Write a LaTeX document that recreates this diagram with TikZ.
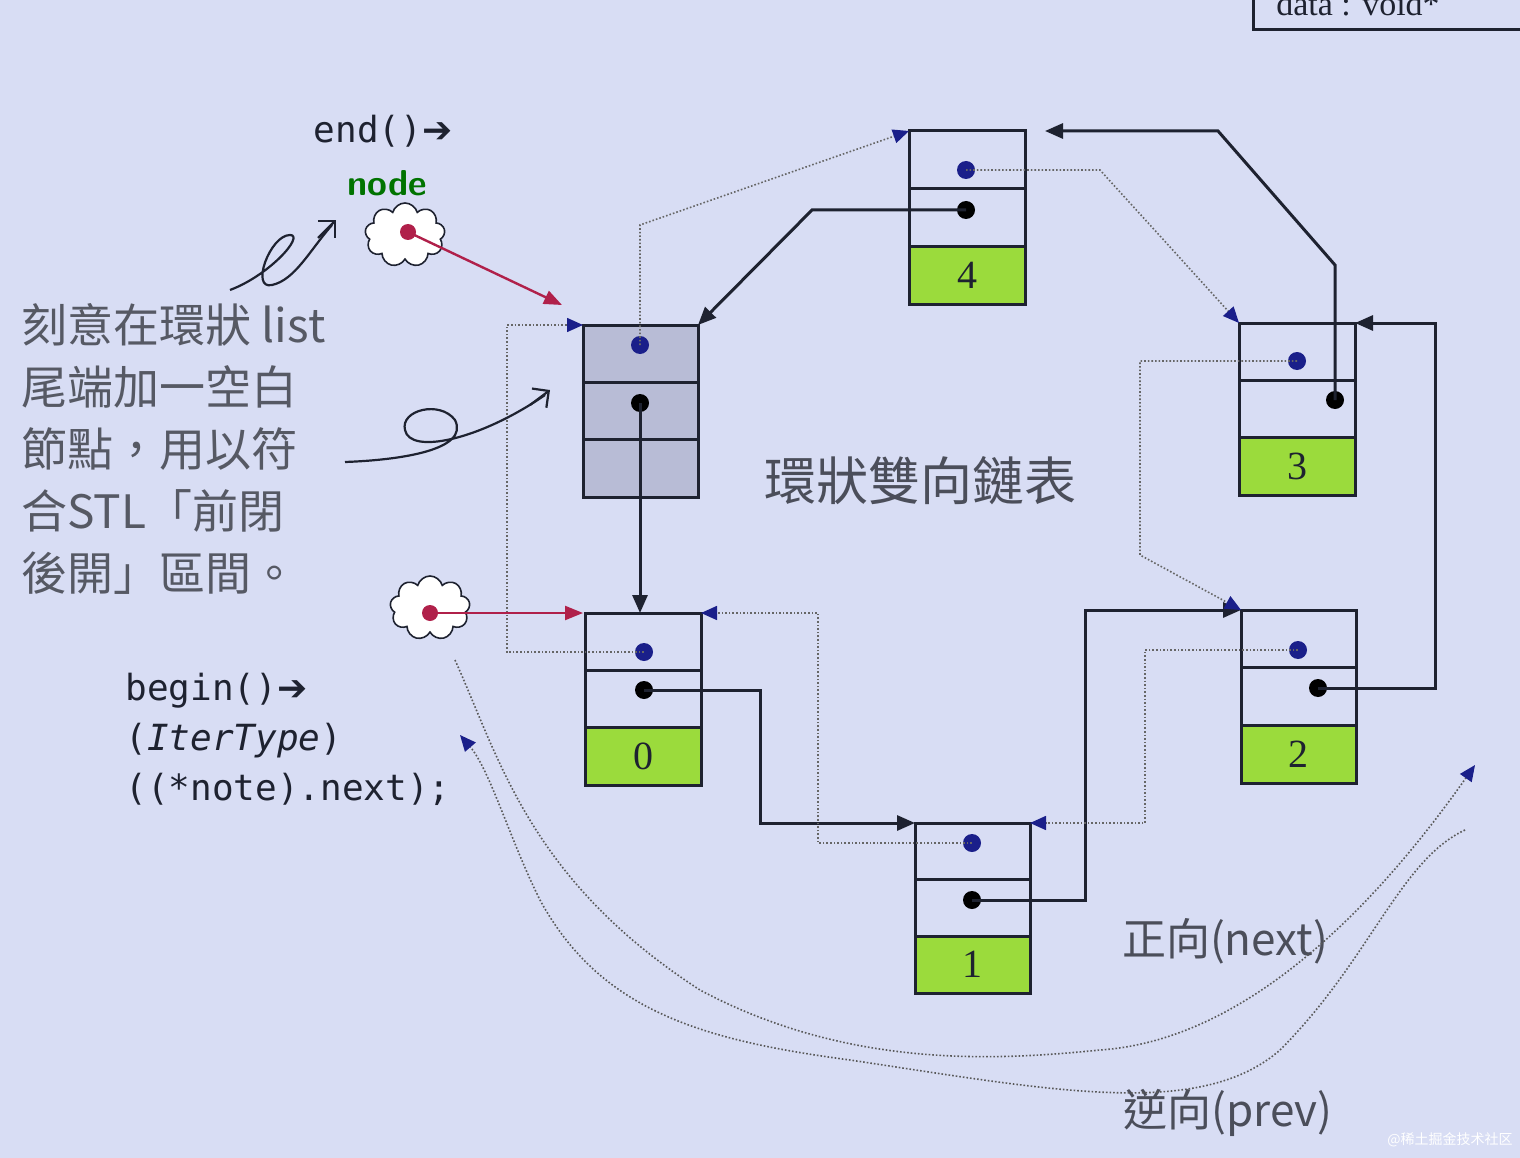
\documentclass[tikz,border=0pt]{standalone}
\usepackage{fontspec}
\setmainfont{Liberation Serif}
\newfontfamily\cjk{Noto Sans CJK TC}
\newfontfamily\mono{DejaVu Sans Mono}
\newfontfamily\dvs{DejaVu Sans}
\usetikzlibrary{shapes.symbols,arrows.meta}
\definecolor{bg}{HTML}{D8DDF4}
\definecolor{gr}{HTML}{9BDB3C}
\definecolor{gy}{HTML}{B8BCD6}
\definecolor{dk}{HTML}{1E2230}
\definecolor{bl}{HTML}{1A1F8A}
\definecolor{rd}{HTML}{B0204A}
\tikzset{
 nx/.style={draw=dk,line width=3pt,-{Triangle[length=18pt,width=15pt]}},
 pv/.style={draw=gray!80!black,dotted,line width=1.6pt,-{Triangle[length=16pt,width=14pt,fill=bl,color=bl]}},
 rl/.style={draw=rd,line width=2.4pt,-{Triangle[length=18pt,width=14pt]}},
 bd/.style={circle,fill=bl,inner sep=0pt,minimum size=18pt},
 kd/.style={circle,fill=black,inner sep=0pt,minimum size=18pt},
 cl/.style={cloud,cloud puffs=9,draw=dk,fill=white,line width=1.6pt,minimum width=80pt,minimum height=64pt},
 wv/.style={draw=gray!70!black,dotted,line width=1.6pt},
 hw/.style={draw=dk,line width=2.2pt},
}
\newcommand{\lnode}[6]{%
 \fill[#6] (#2,{#3+(#5-#3)*2/3}) rectangle (#4,#5);
 \draw[dk,line width=3pt] (#2,#3) rectangle (#4,#5);
 \draw[dk,line width=3pt] (#2,{#3+(#5-#3)/3}) -- (#4,{#3+(#5-#3)/3});
 \draw[dk,line width=3pt] (#2,{#3+(#5-#3)*2/3}) -- (#4,{#3+(#5-#3)*2/3});
 \coordinate (#1tl) at (#2,#3); \coordinate (#1tr) at (#4,#3);
 \coordinate (#1b) at ({(#2+#4)/2},{#3+(#5-#3)*5/6});
}
\begin{document}
\begin{tikzpicture}[x=1pt,y=-1pt]
\fill[bg] (0,0) rectangle (1520,1158);
\useasboundingbox (0,0) rectangle (1520,1158);
\draw[dk,line width=3pt] (1253,-20) -- (1253,30) -- (1530,30);
\node[font=\fontsize{34}{34}\selectfont,text=dk] (dv) at (1358,4) {data : void*};
\fill[gy] (583,325) rectangle (698,497);
\lnode{e}{583}{325}{698}{497}{gy}
\lnode{n0}{585}{613}{701}{785}{gr}
\lnode{n1}{915}{823}{1030}{993}{gr}
\lnode{n2}{1241}{610}{1356}{783}{gr}
\lnode{n3}{1239}{323}{1355}{495}{gr}
\lnode{n4}{909}{131}{1025}{304}{gr}
\foreach \n/\t in {n0/0,n1/1,n2/2,n3/3,n4/4}
 \node[font=\fontsize{40}{40}\selectfont,text=dk] (t\n) at (\n b) {\t};
\node[bd] (eb) at (640,345) {}; \node[kd] (ek) at (640,403) {};
\node[bd] (b0) at (644,652) {}; \node[kd] (k0) at (644,690) {};
\node[bd] (b1) at (972,843) {}; \node[kd] (k1) at (972,900) {};
\node[bd] (b2) at (1298,650) {}; \node[kd] (k2) at (1318,688) {};
\node[bd] (b3) at (1297,361) {}; \node[kd] (k3) at (1335,400) {};
\node[bd] (b4) at (966,170) {}; \node[kd] (k4) at (966,210) {};
\draw[nx] (ek.center) -- (640,613);
\draw[nx] (k0.center) -- (760,690) -- (760,823) -- (n1tl);
\draw[nx] (k1.center) -- (1085,900) -- (1085,610) -- (n2tl);
\draw[nx] (k2.center) -- (1435,688) -- (1435,323) -- (n3tr);
\draw[nx] (k3.center) -- (1335,265) -- (1218,131) -- (1045,131);
\draw[nx] (k4.center) -- (812,210) -- (etr);
\draw[pv] (eb.center) -- (640,225) -- (n4tl);
\draw[pv] (b4.center) -- (1100,170) -- (n3tl);
\draw[pv] (b3.center) -- (1140,361) -- (1140,555) -- (n2tl);
\draw[pv] (b2.center) -- (1145,650) -- (1145,823) -- (n1tr);
\draw[pv] (b1.center) -- (818,843) -- (818,613) -- (n0tr);
\draw[pv] (b0.center) -- (507,652) -- (507,325) -- (etl);
\node[cl] (c1) at (405,235) {};
\node[cl] (c2) at (430,608) {};
\fill[rd] (408,232) circle (8pt); \fill[rd] (430,613) circle (8pt);
\draw[rl] (408,232) -- (562,305);
\draw[rl] (430,613) -- (583,613);
\node[font=\fontsize{36}{36}\mono,text=dk] (end) at (383,131) {end()\dvs ➔};
\node[font=\fontsize{36}{36}\selectfont\sffamily\bfseries,text=green!45!black] (nd) at (387,183) {node};
\node[font=\fontsize{46}{62}\cjk,text=dk!75,align=left,anchor=north west] (desc) at (18,300)
 {刻意在環狀 list\\尾端加一空白\\節點，用以符\\合STL「前閉\\後開」區間。};
\node[font=\fontsize{52}{52}\cjk,text=dk!80] (title) at (920,481) {環狀雙向鏈表};
\node[font=\fontsize{36}{50}\mono,text=dk,align=left,anchor=north west] (code) at (122,670)
 {begin()\dvs ➔\\(\textit{IterType})\\((*note).next);};
\node[font=\fontsize{44}{44}\cjk,text=dk!80] (fw) at (1225,941) {正向(next)};
\node[font=\fontsize{44}{44}\cjk,text=dk!80] (bw) at (1228,1113) {逆向(prev)};
\draw[hw] (230,290) .. controls (270,275) and (305,235) .. (290,235) .. controls (270,235) and (250,290) .. (272,285) .. controls (295,280) and (310,250) .. (332,225);
\draw[hw,-{Straight Barb[length=12pt]}] (318,238) -- (336,220);
\draw[hw] (345,462) .. controls (400,460) and (470,450) .. (455,420) .. controls (440,400) and (400,410) .. (405,430) .. controls (410,455) and (480,440) .. (545,395);
\draw[hw,-{Straight Barb[length=12pt]}] (530,405) -- (550,390);
\draw[wv,-{Triangle[length=16pt,width=14pt,fill=bl,color=bl]}] (1465,830) .. controls (1400,860) and (1370,960) .. (1280,1050) .. controls (1200,1120) and (1050,1090) .. (850,1060) .. controls (700,1040) and (600,1010) .. (540,900) .. controls (510,840) and (490,770) .. (460,735);
\draw[wv,-{Triangle[length=16pt,width=14pt,fill=bl,color=bl]}] (455,660) .. controls (500,760) and (530,880) .. (700,990) .. controls (850,1070) and (1000,1060) .. (1100,1050) .. controls (1250,1040) and (1380,900) .. (1475,765);
\node[font=\fontsize{14}{14}\cjk,text=white] (wm) at (1450,1140) {@稀土掘金技术社区};
\end{tikzpicture}
\end{document}
